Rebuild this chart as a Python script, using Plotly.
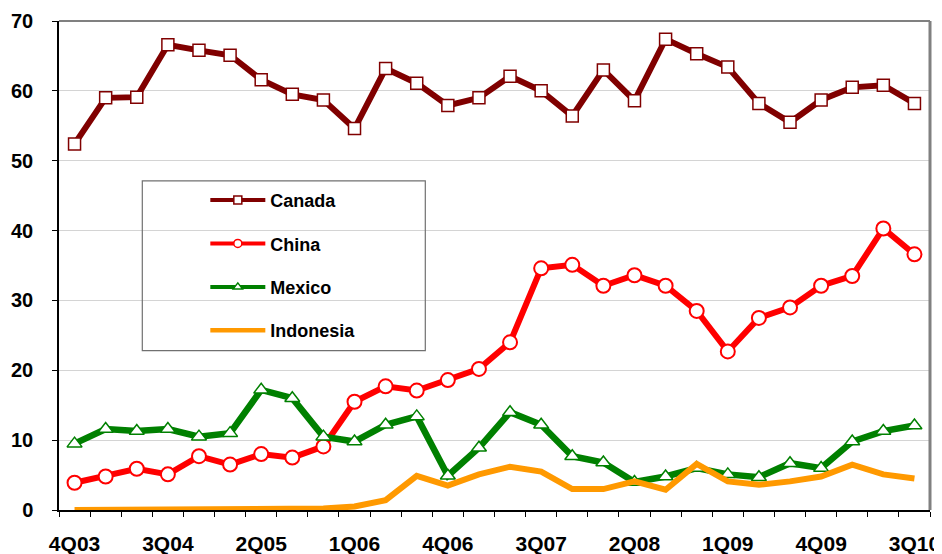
import plotly.graph_objects as go

quarters = ["4Q03",
            "1Q04", "2Q04", "3Q04", "4Q04",
            "1Q05", "2Q05", "3Q05", "4Q05",
            "1Q06", "2Q06", "3Q06", "4Q06",
            "1Q07", "2Q07", "3Q07", "4Q07",
            "1Q08", "2Q08", "3Q08", "4Q08",
            "1Q09", "2Q09", "3Q09", "4Q09",
            "1Q10", "2Q10", "3Q10"]

canada = [52.4, 59.0, 59.1, 66.6, 65.8, 65.1, 61.6, 59.5, 58.7, 54.6,
          63.2, 61.1, 57.9, 59.0, 62.1, 60.0, 56.4, 63.0, 58.6, 67.4,
          65.3, 63.4, 58.2, 55.5, 58.7, 60.5, 60.8, 58.2]
china = [3.9, 4.8, 5.9, 5.1, 7.7, 6.5, 8.0, 7.5, 9.1, 15.5,
         17.7, 17.1, 18.6, 20.2, 24.0, 34.6, 35.1, 32.1, 33.6, 32.1,
         28.5, 22.7, 27.5, 29.0, 32.1, 33.5, 40.3, 36.6]
mexico = [9.5, 11.6, 11.3, 11.6, 10.5, 11.0, 17.2, 16.0, 10.5, 9.8,
          12.2, 13.4, 4.9, 8.9, 14.0, 12.2, 7.7, 6.8, 4.0, 4.8,
          6.0, 5.1, 4.7, 6.7, 6.0, 9.8, 11.3, 12.1]
indonesia = [0.0, 0.0, 0.0, 0.0, 0.0, 0.0, 0.1, 0.1, 0.2, 0.5,
             1.4, 4.9, 3.5, 5.1, 6.2, 5.5, 3.0, 3.0, 4.1, 2.9,
             6.6, 4.1, 3.6, 4.1, 4.8, 6.5, 5.1, 4.5]

tick_labels = ["4Q03", "3Q04", "2Q05", "1Q06", "4Q06", "3Q07", "2Q08", "1Q09", "4Q09", "3Q10"]

series_names = ["Canada", "China", "Mexico", "Indonesia"]
series_values = [canada, china, mexico, indonesia]
series_colors = ["#800000", "#FF0000", "#008000", "#FF9900"]
series_symbols = ["square", "circle", "triangle-up", None]
marker_sizes = [12, 14, 13, 0]
marker_lw = [1.5, 2, 1.5, 0]
line_widths = [6, 6, 6.5, 6]

x = list(range(len(quarters)))
tick_pos = [quarters.index(t) for t in tick_labels]

FONT = "Liberation Sans, Arial, sans-serif"

fig = go.Figure()
for i, (name, vals, col, sym) in enumerate(zip(series_names, series_values, series_colors, series_symbols)):
    grp = "g%d" % i
    if sym:
        fig.add_trace(go.Scatter(
            x=x, y=vals, name=name, mode="lines+markers", legendgroup=grp, showlegend=False,
            line=dict(color=col, width=line_widths[i]),
            marker=dict(symbol=sym, size=marker_sizes[i], color="white",
                        line=dict(color=col, width=marker_lw[i]))))
        # legend-only entry with smaller icon, as in the original legend
        fig.add_trace(go.Scatter(
            x=[None], y=[None], name=name, mode="lines+markers", legendgroup=grp,
            line=dict(color=col, width=4),
            marker=dict(symbol=sym, size=8, color="white", line=dict(color=col, width=1.5))))
    else:
        fig.add_trace(go.Scatter(
            x=x, y=vals, name=name, mode="lines", legendgroup=grp, showlegend=False,
            line=dict(color=col, width=line_widths[i])))
        fig.add_trace(go.Scatter(
            x=[None], y=[None], name=name, mode="lines", legendgroup=grp,
            line=dict(color=col, width=4.5)))

# The page body has an 8px default margin, so the figure is sized to fit the
# remaining viewport and margins are chosen to place the plot area correctly.
fig.update_layout(
    width=934, height=546,
    margin=dict(l=50.7, r=12.3, t=13, b=43.5, autoexpand=False),
    paper_bgcolor="white", plot_bgcolor="white",
    font=dict(family=FONT, color="black", size=18),
    showlegend=True,
    legend=dict(
        x=0.168, y=0.671, xanchor="left", yanchor="top",
        bgcolor="rgba(0,0,0,0)", borderwidth=0,
        font=dict(family=FONT, size=18, color="black", weight="bold"),
        itemwidth=55, tracegroupgap=17, traceorder="grouped",
    ),
    xaxis=dict(
        range=[-0.5, 27.5], tickmode="array", tickvals=tick_pos, ticktext=tick_labels,
        ticks="", showgrid=False, zeroline=False, automargin=False,
        showline=True, linecolor="black", linewidth=1.5,
        tickfont=dict(family=FONT, size=21, color="black", weight="bold"),
        ticklabelstandoff=14,
        minor=dict(tickvals=[i - 0.5 for i in range(len(quarters) + 1)],
                   ticks="outside", ticklen=5, tickcolor="black", tickwidth=1, showgrid=False),
    ),
    yaxis=dict(
        range=[0, 70], tickmode="array", tickvals=[0, 10, 20, 30, 40, 50, 60, 70],
        ticks="outside", ticklen=5, tickcolor="black", tickwidth=1,
        showgrid=True, gridcolor="#D4D4D4", gridwidth=1, zeroline=False, automargin=False,
        showline=True, linecolor="black", linewidth=1.5,
        tickfont=dict(family=FONT, size=20, color="black", weight="bold"),
        ticklabelstandoff=15,
    ),
    shapes=[
        dict(type="line", xref="paper", yref="paper", x0=0, x1=1, y0=1, y1=1,
             line=dict(color="#808080", width=2)),
        dict(type="line", xref="paper", yref="paper", x0=1, x1=1, y0=0, y1=1,
             line=dict(color="#808080", width=3)),
        dict(type="rect", xref="paper", yref="paper",
             x0=(142 - 58.7) / 871, x1=(425 - 58.7) / 871,
             y0=(510.5 - 351) / 489.5, y1=(510.5 - 181) / 489.5,
             line=dict(color="#707070", width=1.2), fillcolor="rgba(0,0,0,0)", layer="above"),
    ],
)

fig.write_html("out.html")
